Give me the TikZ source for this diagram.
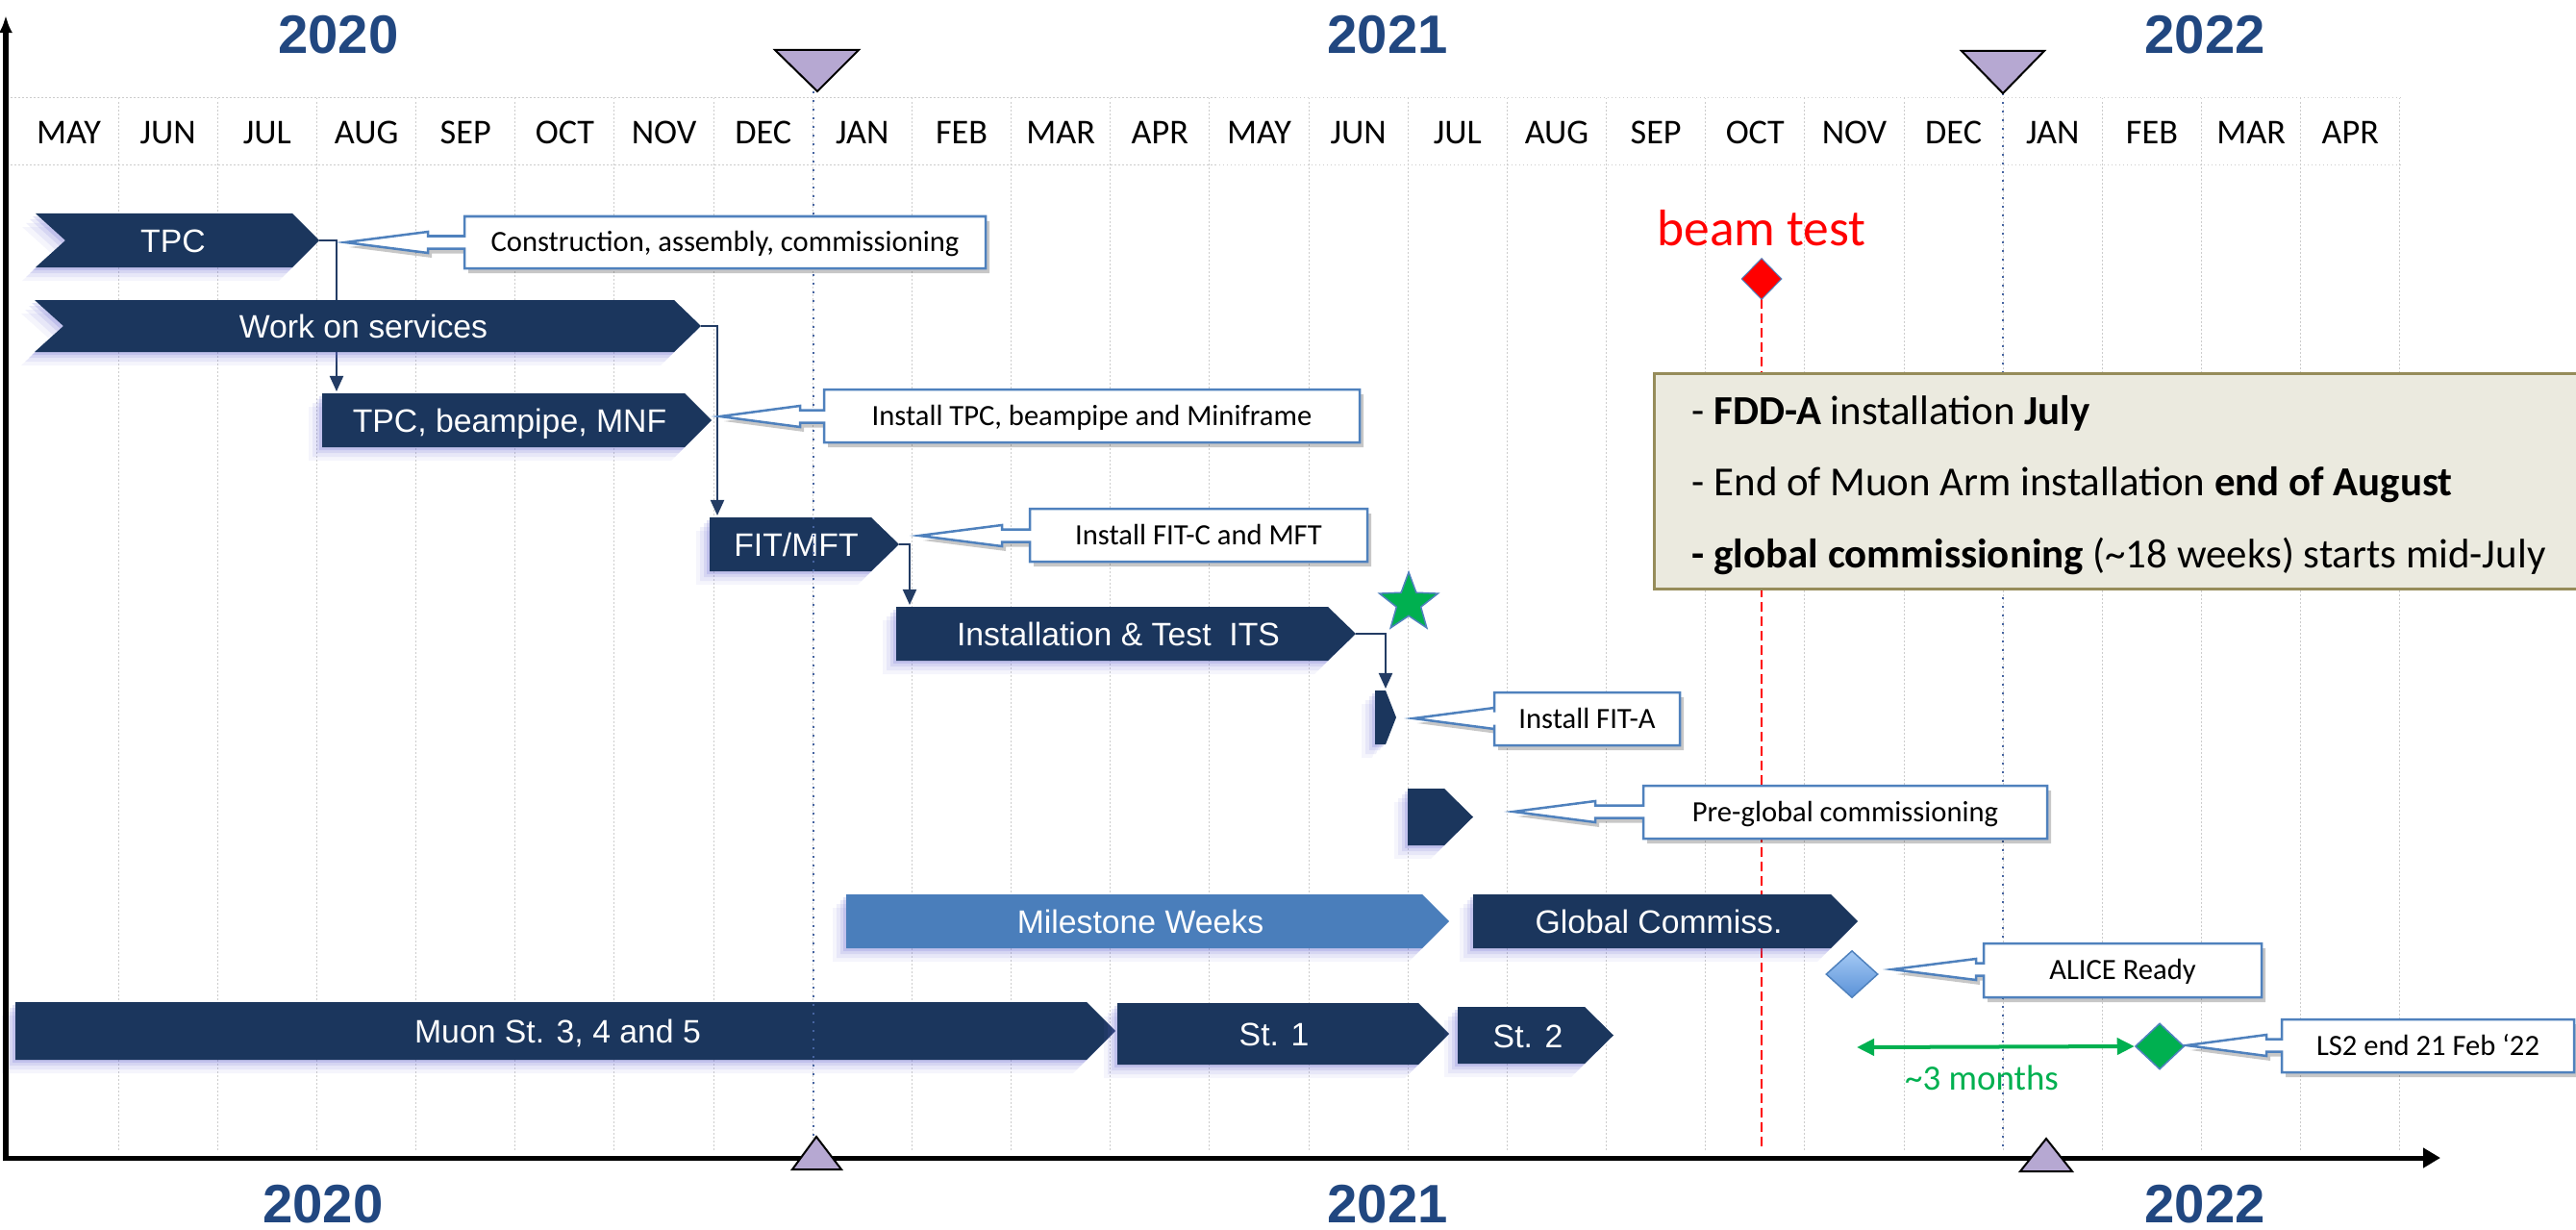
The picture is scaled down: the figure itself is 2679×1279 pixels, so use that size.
\documentclass[tikz,border=0pt]{standalone}
\usepackage{fontspec}
\setmainfont{Carlito}
\newfontfamily\arialf{Liberation Sans}
\usetikzlibrary{arrows.meta,shapes.geometric,calc}

\definecolor{navy}{RGB}{27,54,93}
\definecolor{lightbar}{RGB}{74,126,187}
\definecolor{yearblue}{RGB}{33,71,128}
\definecolor{cblue}{RGB}{79,129,189}
\definecolor{infofill}{RGB}{235,234,223}
\definecolor{infodraw}{RGB}{150,140,90}
\definecolor{lav}{RGB}{182,168,210}
\definecolor{mgreen}{RGB}{0,176,80}
\definecolor{glowc}{RGB}{110,110,210}
\definecolor{dotblue}{RGB}{70,100,160}
\definecolor{connc}{RGB}{35,60,100}
\definecolor{dlight}{RGB}{165,202,245}
\definecolor{ddark}{RGB}{90,145,215}

% bar: L T B E P notch colour
\newcommand\gbar[7]{%
  \foreach \s/\o in {14/0.07,10/0.1,6/0.14,3/0.2}{%
    \fill[glowc,opacity=\o,shift={(-\s,\s)}] (#1,#2) -- (#4,#2) -- (#5,{(#2+#3)/2}) -- (#4,#3) -- (#1,#3) -- ({#1+#6},{(#2+#3)/2}) -- cycle;
  }
  \fill[#7] (#1,#2) -- (#4,#2) -- (#5,{(#2+#3)/2}) -- (#4,#3) -- (#1,#3) -- ({#1+#6},{(#2+#3)/2}) -- cycle;
}
% callout: name L T R B tipx tipy headbase text
\newcommand\mycallout[9]{%
  \fill[black,opacity=0.22,shift={(4,5)}] (#6,#7) -- (#8,{#7-11}) -- (#8,{#7-6.5}) -- (#2,{#7-6.5}) -- (#2,#3) -- (#4,#3) -- (#4,#5) -- (#2,#5) -- (#2,{#7+6.5}) -- (#8,{#7+6.5}) -- (#8,{#7+11}) -- cycle;
  \filldraw[fill=white,draw=cblue,line width=0.025cm,line join=miter] (#6,#7) -- (#8,{#7-11}) -- (#8,{#7-6.5}) -- (#2,{#7-6.5}) -- (#2,#3) -- (#4,#3) -- (#4,#5) -- (#2,#5) -- (#2,{#7+6.5}) -- (#8,{#7+6.5}) -- (#8,{#7+11}) -- cycle;
  \node[ctext] (#1) at ({(#2+#4)/2},{(#3+#5)/2}) {#9};
}

\begin{document}
\begin{tikzpicture}[x=0.01cm,y=-0.01cm,
  yearlbl/.style={font=\arialf\bfseries\fontsize{16}{19}\selectfont, text=yearblue, inner sep=0, text height=11.4pt, text depth=0pt},
  monthlbl/.style={font=\fontsize{10.3}{12}\selectfont, inner sep=0, text height=6.63pt, text depth=0pt},
  bartext/.style={font=\arialf\fontsize{9.6}{11}\selectfont, text=white, inner sep=0, text height=6.87pt, text depth=0pt},
  ctext/.style={font=\fontsize{8.7}{10}\selectfont, inner sep=0, text height=5.6pt, text depth=0pt},
  infotext/.style={font=\fontsize{12.2}{14}\selectfont, inner sep=0, anchor=west, text height=7.86pt, text depth=0pt},
  gridline/.style={draw=black!20, line width=0.01cm, dash pattern=on 0.015cm off 0.025cm},
  conn/.style={draw=connc, line width=0.02cm, -{Triangle[width=0.14cm,length=0.16cm]}},
  axisline/.style={line width=0.05cm, black},
  tri/.style={fill=lav, draw=black, line width=0.02cm, line join=miter},
]
\useasboundingbox (0,0) rectangle (2679,1279);

% grid
\foreach \k in {1,...,24}{\draw[gridline] ({20+103.16*\k},102) -- ({20+103.16*\k},1197);}
\draw[gridline] (11,102) -- (2497,102);
\draw[gridline] (11,172) -- (2497,172);
\foreach \m [count=\i from 0] in {MAY,JUN,JUL,AUG,SEP,OCT,NOV,DEC,JAN,FEB,MAR,APR,MAY,JUN,JUL,AUG,SEP,OCT,NOV,DEC,JAN,FEB,MAR,APR}{
  \node[monthlbl] (m\i) at ({20+103.16*(\i+0.5)},138) {\m};
}

% red dashed beam test line
\coordinate (btBot) at (1832,311);
\coordinate (btEnd) at (1832,1195);
\draw[red, line width=0.025cm, dash pattern=on 0.1cm off 0.05cm] (btBot) -- (btEnd);

% connectors
\coordinate (tpcTip) at (332,250);  \coordinate (tbmTop) at (350,407);
\coordinate (wsTip) at (729,339);   \coordinate (fitTop) at (746,536);
\coordinate (fitTip) at (935,566);  \coordinate (itsTop) at (946,629);
\coordinate (itsTip) at (1410,659); \coordinate (fitaTop) at (1441,716);
\draw[conn] (tpcTip) -| (tbmTop);
\draw[conn] (wsTip) -| (fitTop);
\draw[conn] (fitTip) -| (itsTop);
\draw[conn] (itsTip) -| (fitaTop);

% bars
\gbar{37}{222}{278}{304}{332}{31}{navy}
\node[bartext] (tpc) at (180,250) {TPC};
\gbar{36}{312}{366}{701}{729}{30}{navy}
\node[bartext] (ws) at (378,339) {Work on services};
\gbar{335}{409}{465}{712}{740}{0}{navy}
\node[bartext] (tbm) at (530,437) {TPC, beampipe, MNF};
\gbar{738}{538}{594}{906}{935}{0}{navy}
\node[bartext] (fitmft) at (828,566) {FIT/MFT};
\gbar{932}{631}{687}{1381}{1410}{0}{navy}
\node[bartext] (its) at (1163,659) {Installation \& Test\ \ ITS};
\gbar{1430}{718}{774}{1441}{1452}{0}{navy}
\coordinate (fita) at (1452,746);
\gbar{1464}{820}{879}{1502}{1532}{0}{navy}
\coordinate (preg) at (1532,849);
\gbar{880}{930}{986}{1479}{1507}{0}{lightbar}
\node[bartext] (mw) at (1186,958) {Milestone Weeks};
\gbar{1532}{930}{986}{1904}{1932}{0}{navy}
\node[bartext] (gc) at (1725,958) {Global Commiss.};
\gbar{16}{1042}{1102}{1130}{1160}{0}{navy}
\node[bartext] (muon) at (580,1072) {Muon St. 3, 4 and 5};
\gbar{1162}{1043}{1107}{1475}{1507}{0}{navy}
\node[bartext] (st1) at (1325,1075) {St. 1};
\gbar{1516}{1047}{1106}{1648}{1678}{0}{navy}
\node[bartext] (st2) at (1589,1077) {St. 2};

% blue dotted year boundaries
\draw[dotblue, line width=0.02cm, dotted] (846,95) -- (846,1182);
\draw[dotblue, line width=0.02cm, dotted] (2083,97) -- (2083,1195);

% info box
\filldraw[fill=infofill, draw=infodraw, line width=0.03cm] (1720,388) rectangle (2720,612);
\node[infotext] (info1) at (1759,428) {- \textbf{FDD-A} installation \textbf{July}};
\node[infotext] (info2) at (1759,502) {- End of Muon Arm installation \textbf{end of August}};
\node[infotext] (info3) at (1759,577) {\textbf{- global commissioning} (\textasciitilde18 weeks) starts mid-July};

% callouts
\mycallout{c1}{483}{225}{1025}{279}{359}{252}{445}{Construction, assembly, commissioning}
\mycallout{c2}{857}{405}{1414}{460}{749}{433}{832}{Install TPC, beampipe and Miniframe}
\mycallout{c3}{1071}{529}{1422}{584}{956}{557}{1042}{Install FIT-C and MFT}
\mycallout{c4}{1554}{720}{1747}{775}{1470}{747}{1554}{Install FIT-A}
\mycallout{c5}{1709}{817}{2129}{872}{1574}{844}{1659}{Pre-global commissioning}
\mycallout{c6}{2063}{981}{2352}{1037}{1968}{1008}{2055}{ALICE Ready}
\mycallout{c7}{2373}{1060}{2677}{1115}{2274}{1087}{2357}{LS2 end 21 Feb ‘22}

% milestones
\node[font=\fontsize{15.2}{18}\selectfont, text=red, inner sep=0, text height=9.8pt, text depth=0pt] (beam) at (1832,238) {beam test};
\node[diamond, minimum width=0.42cm, minimum height=0.43cm, inner sep=0, fill=red, draw=cblue, line width=0.01cm] (bt) at (1832,290) {};
\node[diamond, minimum width=0.54cm, minimum height=0.49cm, inner sep=0, top color=dlight, bottom color=ddark, draw=cblue, line width=0.015cm] (ad) at (1926,1013) {};
\node[diamond, minimum width=0.51cm, minimum height=0.48cm, inner sep=0, fill=mgreen, draw=cblue, line width=0.015cm] (gd) at (2246,1088) {};
\node[star, star points=5, star point ratio=2.4, minimum size=0.64cm, inner sep=0, fill=mgreen, draw=cblue, line width=0.015cm] (star) at (1465,627) {};
\coordinate (gl) at (1931,1089);
\draw[mgreen, line width=0.04cm, {Triangle[width=0.17cm,length=0.18cm]}-{Triangle[width=0.17cm,length=0.18cm]}] (gl) -- (gd.west);
\node[font=\fontsize{10.5}{12}\selectfont, text=mgreen, inner sep=0, text height=6.8pt, text depth=0pt] (three) at (2061,1122) {\textasciitilde3 months};

% axes
\draw[axisline, -{Latex[length=0.18cm,width=0.14cm]}] (6,1206) -- (6,16);
\draw[axisline, -{Triangle[length=0.18cm,width=0.2cm]}] (3,1204) -- (2538,1204);

% triangles
\draw[tri] (806,52) -- (893,52) -- (850,95) -- cycle;
\draw[tri] (2040,53) -- (2126,53) -- (2083,97) -- cycle;
\draw[tri] (824,1216) -- (875,1216) -- (849,1182) -- cycle;
\draw[tri] (2101,1218) -- (2155,1218) -- (2128,1184) -- cycle;

% years
\node[yearlbl] (y20t) at (352,35) {2020};
\node[yearlbl] (y21t) at (1443,35) {2021};
\node[yearlbl] (y22t) at (2293,35) {2022};
\node[yearlbl] (y20b) at (336,1251) {2020};
\node[yearlbl] (y21b) at (1443,1251) {2021};
\node[yearlbl] (y22b) at (2293,1251) {2022};
\end{tikzpicture}
\end{document}
